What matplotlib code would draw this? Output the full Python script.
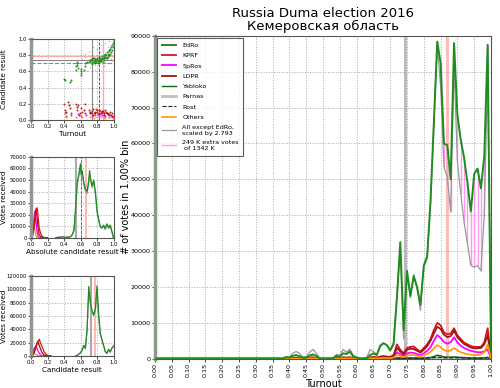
import numpy as np
import matplotlib
matplotlib.use("Agg")
import matplotlib.pyplot as plt

# ---------------- main histogram data (1% turnout bins) ----------------
turnout_bins = [round(i * 0.01, 2) for i in range(101)]
pad = [0] * 38
edro = pad + [0, 500, 300, 800, 1000, 700, 200, 300, 900, 1200, 800, 100, 0, 0, 0, 100,
              800, 600, 1500, 1300, 2000, 600, 300, 0, 0, 100, 1000, 1500, 1000, 3500, 4300, 3800,
              2300, 4000, 17000, 32500, 8000, 24500, 17500, 23000, 20000, 15000, 26000, 28500,
              44000, 66000, 88400, 82500, 60000, 59500, 50000, 88000, 68000, 61000, 56000, 49000,
              41000, 51500, 53000, 47500, 56500, 87500, 2000]
others_scaled = pad + [0, 300, 500, 1500, 2000, 1500, 500, 600, 1800, 2600, 1500, 200, 0, 0, 0, 200,
                       1200, 1000, 2600, 1800, 2700, 900, 500, 0, 0, 300, 2500, 2000, 1200, 3800, 4400, 3800,
                       2500, 4500, 18000, 30000, 5500, 24000, 17000, 23500, 19500, 13500, 25500, 28000,
                       43000, 65000, 87500, 76000, 53500, 50500, 41000, 82000, 55000, 46000, 38000, 32000,
                       26000, 25500, 26000, 24500, 40000, 80000, 1500]
kprf = pad + [0, 100, 100, 200, 300, 200, 50, 100, 300, 400, 200, 0, 0, 0, 0, 0,
              200, 200, 400, 300, 400, 100, 50, 0, 0, 50, 300, 500, 300, 600, 700, 600,
              500, 1000, 4000, 2500, 1500, 3000, 3300, 3400, 2600, 2000, 3000, 4000,
              5500, 8000, 10000, 9300, 7300, 6800, 7000, 8500, 6500, 5500, 4500, 4000,
              3500, 3300, 3300, 3300, 4500, 8500, 300]
ldpr = pad + [0, 80, 80, 150, 250, 150, 40, 80, 250, 300, 150, 0, 0, 0, 0, 0,
              150, 150, 300, 250, 300, 80, 40, 0, 0, 40, 250, 400, 250, 500, 600, 500,
              400, 800, 3000, 2000, 1200, 2500, 2800, 2700, 2200, 1700, 2500, 3500,
              5000, 7000, 8900, 8300, 6700, 6000, 6300, 7800, 6000, 5000, 4100, 3600,
              3100, 2900, 2900, 3000, 4000, 6500, 250]
spros = pad + [0, 50, 50, 100, 150, 100, 20, 50, 150, 200, 100, 0, 0, 0, 0, 0,
               100, 100, 200, 150, 200, 50, 20, 0, 0, 20, 150, 250, 150, 300, 350, 300,
               250, 500, 1800, 1200, 800, 1500, 1700, 1600, 1300, 1000, 1500, 2200,
               3200, 5000, 6600, 5800, 4600, 4200, 4600, 6000, 4500, 3600, 3000, 2600,
               2200, 2000, 1800, 1800, 2000, 2600, 150]
yabloko = pad + [0, 10, 10, 20, 30, 20, 5, 10, 30, 40, 20, 0, 0, 0, 0, 0,
                 20, 20, 40, 30, 40, 10, 5, 0, 0, 5, 30, 50, 30, 60, 70, 60,
                 50, 80, 200, 150, 100, 180, 200, 200, 160, 120, 180, 250,
                 350, 600, 1000, 800, 500, 450, 450, 500, 400, 350, 300, 250,
                 220, 200, 200, 200, 250, 350, 20]
parnas = pad + [0, 5, 5, 10, 15, 10, 2, 5, 15, 20, 10, 0, 0, 0, 0, 0,
                10, 10, 20, 15, 20, 5, 2, 0, 0, 2, 15, 25, 15, 30, 35, 30,
                25, 40, 100, 80, 50, 90, 100, 100, 80, 60, 90, 120,
                170, 250, 350, 300, 220, 200, 200, 250, 200, 170, 150, 120,
                110, 100, 100, 100, 120, 180, 10]
rost = pad + [0, 5, 5, 10, 15, 10, 2, 5, 15, 20, 10, 0, 0, 0, 0, 0,
              10, 10, 20, 15, 20, 5, 2, 0, 0, 2, 15, 25, 15, 30, 35, 30,
              25, 40, 120, 90, 60, 100, 110, 110, 90, 70, 100, 140,
              200, 300, 400, 350, 260, 240, 240, 300, 230, 200, 170, 140,
              130, 120, 120, 120, 140, 220, 10]
others = pad + [0, 30, 30, 60, 90, 60, 10, 30, 90, 120, 60, 0, 0, 0, 0, 0,
                60, 60, 120, 90, 120, 30, 10, 0, 0, 10, 90, 150, 90, 180, 200, 180,
                150, 300, 1000, 700, 500, 900, 1000, 1000, 800, 700, 900, 1300,
                1900, 2900, 3800, 3200, 2400, 2100, 2300, 3000, 2300, 1800, 1500, 1300,
                1100, 1000, 1000, 1200, 1800, 4000, 100]
extra_from = 0.85
median_turnout = 0.745
mean_turnout = 0.868

# ---------------- left panel 1: scatter (turnout, result) ----------------
edro_pts_t = [0.40, 0.41, 0.47, 0.48, 0.55, 0.55, 0.555, 0.56, 0.56, 0.565, 0.60, 0.60, 0.605, 0.61,
              0.64, 0.65, 0.66, 0.68, 0.70, 0.71, 0.72, 0.73, 0.74, 0.75, 0.76, 0.77, 0.78, 0.79,
              0.80, 0.81, 0.82, 0.83, 0.84, 0.85, 0.86, 0.87, 0.88, 0.89, 0.90, 0.91, 0.92, 0.93,
              0.94, 0.95, 0.96, 0.97, 0.98, 0.99, 1.00, 0.99, 0.97, 0.95, 0.93, 0.91, 0.89, 0.87,
              0.85, 0.83, 0.81, 0.79, 0.76, 0.74, 0.92, 0.96, 0.98, 0.78, 0.82, 0.86, 0.88, 0.90,
              0.94, 0.84, 0.80, 0.77, 0.75]
edro_pts_r = [0.50, 0.49, 0.47, 0.49, 0.62, 0.66, 0.70, 0.72, 0.68, 0.64, 0.56, 0.60, 0.63, 0.58,
              0.62, 0.66, 0.70, 0.72, 0.72, 0.74, 0.73, 0.75, 0.72, 0.74, 0.76, 0.73, 0.75, 0.74,
              0.77, 0.73, 0.76, 0.78, 0.75, 0.77, 0.79, 0.76, 0.80, 0.78, 0.82, 0.80, 0.84, 0.82,
              0.86, 0.85, 0.88, 0.90, 0.92, 0.95, 0.97, 0.90, 0.84, 0.80, 0.78, 0.76, 0.74, 0.72,
              0.73, 0.72, 0.70, 0.71, 0.71, 0.69, 0.77, 0.81, 0.86, 0.72, 0.74, 0.75, 0.76, 0.78,
              0.80, 0.73, 0.75, 0.70, 0.76]
gray_pts_t = [0.58, 0.62, 0.65, 0.68, 0.70, 0.72, 0.75, 0.78, 0.80, 0.82, 0.85, 0.88, 0.90, 0.92,
              0.95, 0.97, 0.99, 0.66, 0.74, 0.84, 0.93, 0.98, 0.77, 0.87, 0.96]
gray_pts_r = [0.70, 0.75, 0.82, 0.60, 0.85, 0.65, 0.90, 0.62, 0.88, 0.68, 0.92, 0.66, 0.95, 0.70,
              0.97, 0.75, 0.99, 0.78, 0.80, 0.84, 0.90, 0.80, 0.68, 0.86, 0.93]
kprf_pts_t = [0.40, 0.41, 0.42, 0.45, 0.47, 0.48, 0.55, 0.56, 0.57, 0.58, 0.60, 0.62, 0.65, 0.66,
              0.70, 0.72, 0.74, 0.76, 0.78, 0.80, 0.82, 0.84, 0.86, 0.88, 0.90, 0.92, 0.94, 0.96,
              0.98, 1.00, 0.75, 0.79, 0.83, 0.87, 0.91, 0.95, 0.99]
kprf_pts_r = [0.20, 0.12, 0.05, 0.22, 0.15, 0.08, 0.20, 0.12, 0.18, 0.06, 0.15, 0.10, 0.20, 0.08,
              0.12, 0.09, 0.11, 0.08, 0.10, 0.12, 0.09, 0.11, 0.10, 0.08, 0.12, 0.09, 0.07, 0.10,
              0.08, 0.05, 0.14, 0.13, 0.12, 0.11, 0.10, 0.06, 0.04]
ldpr_pts_t = [0.42, 0.46, 0.56, 0.59, 0.64, 0.71, 0.73, 0.77, 0.81, 0.85, 0.89, 0.93, 0.97, 0.80,
              0.86, 0.92, 0.98, 0.75, 0.88]
ldpr_pts_r = [0.10, 0.18, 0.16, 0.09, 0.12, 0.10, 0.08, 0.09, 0.07, 0.08, 0.09, 0.07, 0.06, 0.10,
              0.11, 0.08, 0.05, 0.06, 0.06]
spros_pts_t = [0.41, 0.48, 0.57, 0.61, 0.67, 0.74, 0.78, 0.82, 0.86, 0.90, 0.94, 0.98, 0.84, 0.88]
spros_pts_r = [0.08, 0.06, 0.07, 0.05, 0.06, 0.05, 0.06, 0.05, 0.06, 0.05, 0.04, 0.03, 0.07, 0.04]
oth_pts_t = [0.43, 0.55, 0.62, 0.72, 0.80, 0.85, 0.90, 0.95, 0.99, 0.76, 0.88]
oth_pts_r = [0.04, 0.03, 0.04, 0.03, 0.03, 0.04, 0.02, 0.03, 0.02, 0.02, 0.03]
p1_hlines = [0.79, 0.745, 0.70]
p1_vlines = [0.745, 0.82, 0.868]

# ---------------- left panel 2: votes vs absolute result ----------------
abs_x = [0.30, 0.32, 0.34, 0.36, 0.38, 0.40, 0.42, 0.44, 0.46, 0.48, 0.50, 0.52, 0.54, 0.56,
         0.58, 0.60, 0.61, 0.62, 0.64, 0.66, 0.68, 0.70, 0.71, 0.72, 0.74, 0.76, 0.78, 0.80,
         0.82, 0.84, 0.86, 0.88, 0.90, 0.92, 0.94, 0.96, 0.98, 1.00]
abs_edro = [0, 300, 500, 500, 800, 500, 300, 600, 300, 1000, 2500, 6000, 25000, 48000,
            55000, 64000, 55000, 58000, 48000, 42000, 40000, 50000, 58000, 52000, 45000, 50000, 40000, 24000,
            16000, 10000, 9000, 11000, 8000, 12000, 9000, 11000, 6000, 0]
abs_gray = [0, 500, 800, 700, 1000, 800, 500, 900, 500, 1500, 3000, 7000, 22000, 45000,
            53000, 60000, 52000, 55000, 46000, 40000, 38000, 47000, 54000, 50000, 43000, 48000, 38000, 22000,
            15000, 9000, 8000, 10000, 7000, 11000, 8000, 10000, 5000, 0]
abs_small_x = [0.00, 0.02, 0.04, 0.05, 0.06, 0.07, 0.08, 0.09, 0.10, 0.12, 0.14, 0.16, 0.20]
abs_kprf = [0, 2000, 9000, 15000, 22000, 26000, 24000, 15000, 8000, 3000, 1000, 300, 0]
abs_ldpr = [0, 3000, 12000, 19000, 25000, 20000, 12000, 6000, 2500, 800, 200, 0, 0]
abs_spros = [0, 6000, 20000, 23000, 15000, 7000, 2500, 800, 200, 0, 0, 0, 0]
abs_oth = [0, 6000, 10000, 6000, 2000, 500, 100, 0, 0, 0, 0, 0, 0]
p2_vlines = [0.547, 0.60, 0.665]

# ---------------- left panel 3: votes vs candidate result ----------------
rel_x = [0.54, 0.56, 0.58, 0.60, 0.62, 0.64, 0.66, 0.68, 0.70, 0.72, 0.74, 0.76, 0.78, 0.80,
         0.82, 0.84, 0.86, 0.88, 0.90, 0.92, 0.94, 0.96, 0.98, 1.00]
rel_edro = [0, 1000, 3000, 5000, 9000, 16000, 12000, 40000, 104000, 80000, 68000, 62000, 70000, 105000,
            62000, 34000, 25000, 16000, 7000, 4000, 10000, 6000, 12000, 15000]
rel_gray = [0, 800, 2500, 4500, 8000, 14000, 11000, 38000, 98000, 78000, 66000, 60000, 68000, 100000,
            58000, 32000, 23000, 15000, 6500, 3500, 9000, 5500, 11000, 14000]
rel_small_x = [0.00, 0.02, 0.04, 0.06, 0.08, 0.10, 0.12, 0.14, 0.16, 0.18, 0.20, 0.24]
rel_kprf = [0, 1000, 5000, 12000, 20000, 25000, 18000, 12000, 6000, 3000, 1000, 0]
rel_ldpr = [0, 1500, 7000, 15000, 22000, 16000, 9000, 4000, 1500, 500, 0, 0]
rel_spros = [0, 4000, 12000, 15000, 9000, 4000, 1500, 500, 0, 0, 0, 0]
rel_oth = [0, 5000, 4000, 2000, 800, 200, 0, 0, 0, 0, 0, 0]
p3_vlines = [0.725, 0.775]

# ---------------- styles ----------------
C_EDRO = '#1e8c1e'
C_KPRF = '#d01818'
C_SPROS = '#ff00ff'
C_LDPR = '#a01515'
C_YAB = '#0a6a0a'
C_PARNAS = '#c0c0c0'
C_ROST = '#222222'
C_OTH = '#ff9900'
C_GRAY = '#999999'
C_PINK = '#ff99ee'
SPINE = '#8c9a8c'

fig = plt.figure(figsize=(5.0, 3.88), dpi=100)


def style_axes(ax, fs):
    ax.grid(True, linestyle=':', color='#aaaaaa', linewidth=0.7)
    ax.tick_params(labelsize=fs, length=2, width=0.5, pad=1.2)
    for s in ['top', 'right', 'bottom']:
        ax.spines[s].set_color('#555555')
        ax.spines[s].set_linewidth(0.8)
    ax.spines['left'].set_color(SPINE)
    ax.spines['left'].set_linewidth(2.5)


# main axes
ax = fig.add_axes([0.31, 0.0755, 0.672, 0.832])
style_axes(ax, 4.6)
t = np.array(turnout_bins)
ax.axvline(median_turnout, color='#aaaaaa', lw=2.2, alpha=0.8, zorder=1)
ax.axvline(mean_turnout, color='#ffaaaa', lw=2.2, alpha=0.8, zorder=1)
e = np.array(edro)
g = np.array(others_scaled)
mask = (t >= extra_from) & (e > g)
ax.vlines(t[mask], g[mask], e[mask], color=C_PINK, lw=1.0, zorder=2)
ax.plot(t, edro, color=C_EDRO, lw=1.4, label='EdRo', zorder=5)
ax.plot(t, kprf, color=C_KPRF, lw=1.3, label='KPRF', zorder=4)
ax.plot(t, spros, color=C_SPROS, lw=1.3, label='SpRos', zorder=4)
ax.plot(t, ldpr, color=C_LDPR, lw=1.3, label='LDPR', zorder=4)
ax.plot(t, yabloko, color=C_YAB, lw=1.0, label='Yabloko', zorder=4)
ax.plot(t, parnas, color=C_PARNAS, lw=2.0, label='Parnas', zorder=3)
ax.plot(t, rost, color=C_ROST, lw=0.8, ls='--', label='Rost', zorder=4)
ax.plot(t, others, color=C_OTH, lw=1.2, label='Others', zorder=4)
ax.plot(t, others_scaled, color=C_GRAY, lw=0.9, label='All except EdRo,\nscaled by 2.793', zorder=3)
ax.plot([], [], color=C_PINK, lw=1.0, label='249 K extra votes\n of 1342 K')
ax.set_xlim(0, 1.0)
ax.set_ylim(0, 90000)
ax.set_xticks(turnout_bins[::5])
ax.set_xticklabels(['%.2f' % v for v in turnout_bins[::5]], rotation=90)
ax.set_yticks(range(0, 90001, 10000))
ax.set_xlabel('Turnout', fontsize=7, labelpad=1)
ax.set_ylabel('# of votes in 1.00% bin', fontsize=7)
ax.yaxis.set_label_coords(-0.072, 0.5)
ax.set_title('Russia Duma election 2016\nКемеровская область', fontsize=9.5, pad=4, linespacing=1.0)
leg = ax.legend(loc='upper left', fontsize=4.6, frameon=True, fancybox=False,
                edgecolor='#333333', borderaxespad=0.35, handlelength=2.2, handletextpad=1.0,
                labelspacing=0.75, borderpad=0.7)
leg.get_frame().set_linewidth(0.8)

# panel 1
a1 = fig.add_axes([0.062, 0.691, 0.165, 0.2085])
style_axes(a1, 3.8)
a1.scatter(gray_pts_t, gray_pts_r, s=0.8, color='#aaaaaa', lw=0, zorder=2)
a1.scatter(edro_pts_t, edro_pts_r, s=2.0, color=C_EDRO, lw=0, zorder=3)
a1.scatter(kprf_pts_t, kprf_pts_r, s=2.0, color=C_KPRF, lw=0, zorder=3)
a1.scatter(ldpr_pts_t, ldpr_pts_r, s=2.0, color=C_LDPR, lw=0, zorder=3)
a1.scatter(spros_pts_t, spros_pts_r, s=2.0, color=C_SPROS, lw=0, zorder=3)
a1.scatter(oth_pts_t, oth_pts_r, s=2.0, color=C_OTH, lw=0, zorder=3)
a1.axhline(p1_hlines[0], color='#ffaaaa', lw=1.0)
a1.axhline(p1_hlines[1], color='#888888', lw=0.8)
a1.axhline(p1_hlines[2], color='#888888', lw=0.8, ls='--')
a1.axvline(p1_vlines[0], color='#888888', lw=0.8)
a1.axvline(p1_vlines[1], color='#444444', lw=0.6, ls='--')
a1.axvline(p1_vlines[2], color='#ffaaaa', lw=1.0)
a1.set_xlim(0, 1)
a1.set_ylim(0, 1)
a1.set_xticks([0, 0.2, 0.4, 0.6, 0.8, 1.0])
a1.set_yticks([0, 0.2, 0.4, 0.6, 0.8, 1.0])
a1.set_xlabel('Turnout', fontsize=5.2, labelpad=1)
a1.set_ylabel('Candidate result', fontsize=5.2)
a1.yaxis.set_label_coords(-0.29, 0.5)

# panel 2
a2 = fig.add_axes([0.062, 0.387, 0.165, 0.209])
style_axes(a2, 3.8)
a2.axvline(p2_vlines[0], color='#aaaaaa', lw=1.5)
a2.axvline(p2_vlines[1], color='#555555', lw=0.6, ls='--')
a2.axvline(p2_vlines[2], color='#ffaaaa', lw=1.2)
a2.plot(abs_x, abs_gray, color=C_GRAY, lw=0.8)
a2.plot(abs_x, abs_edro, color=C_EDRO, lw=0.9)
a2.plot(abs_small_x, abs_oth, color=C_OTH, lw=0.9)
a2.plot(abs_small_x, abs_spros, color=C_SPROS, lw=0.9)
a2.plot(abs_small_x, abs_ldpr, color=C_LDPR, lw=0.9)
a2.plot(abs_small_x, abs_kprf, color=C_KPRF, lw=0.9)
a2.set_xlim(0, 1)
a2.set_ylim(0, 70000)
a2.set_xticks([0, 0.2, 0.4, 0.6, 0.8, 1.0])
a2.set_yticks(range(0, 70001, 10000))
a2.set_xlabel('Absolute candidate result', fontsize=5.2, labelpad=1)
a2.set_ylabel('Votes received', fontsize=5.2)
a2.yaxis.set_label_coords(-0.29, 0.5)

# panel 3
a3 = fig.add_axes([0.062, 0.0825, 0.165, 0.2065])
style_axes(a3, 3.8)
a3.axvline(p3_vlines[0], color='#aaaaaa', lw=1.5)
a3.axvline(p3_vlines[1], color='#ffaaaa', lw=1.2)
a3.plot(rel_x, rel_gray, color=C_GRAY, lw=0.8)
a3.plot(rel_x, rel_edro, color=C_EDRO, lw=0.9)
a3.plot(rel_small_x, rel_oth, color=C_OTH, lw=0.9)
a3.plot(rel_small_x, rel_spros, color=C_SPROS, lw=0.9)
a3.plot(rel_small_x, rel_ldpr, color=C_LDPR, lw=0.9)
a3.plot(rel_small_x, rel_kprf, color=C_KPRF, lw=0.9)
a3.set_xlim(0, 1)
a3.set_ylim(0, 120000)
a3.set_xticks([0, 0.2, 0.4, 0.6, 0.8, 1.0])
a3.set_yticks(range(0, 120001, 20000))
a3.set_xlabel('Candidate result', fontsize=5.2, labelpad=1)
a3.set_ylabel('Votes received', fontsize=5.2)
a3.yaxis.set_label_coords(-0.29, 0.5)

fig.savefig('out.png', dpi=100)
